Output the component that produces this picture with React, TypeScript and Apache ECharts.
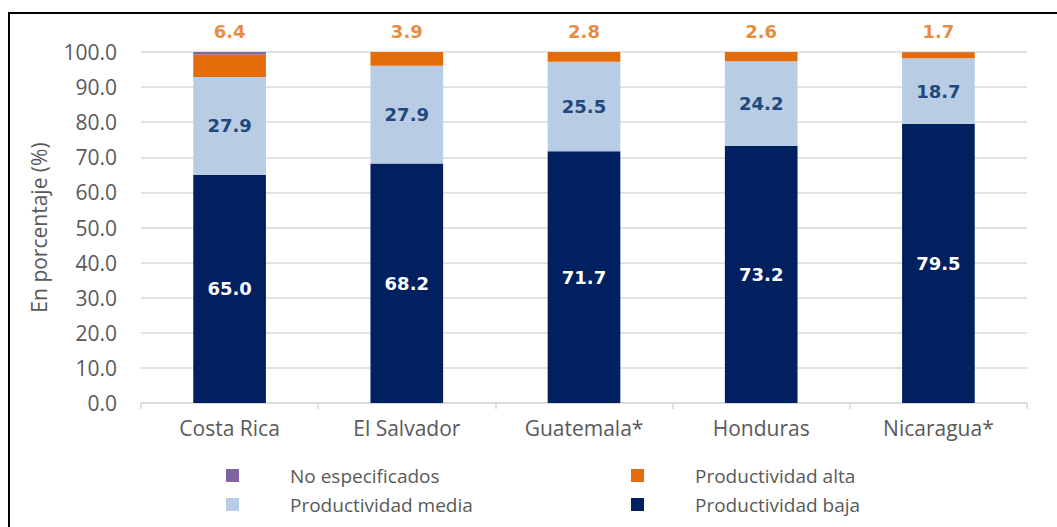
import React, { useEffect, useRef } from "react";
import * as echarts from "echarts";

const categories = ["Costa Rica", "El Salvador", "Guatemala*", "Honduras", "Nicaragua*"];
const baja = [65.0, 68.2, 71.7, 73.2, 79.5];
const media = [27.9, 27.9, 25.5, 24.2, 18.7];
const alta = [6.4, 3.9, 2.8, 2.6, 1.7];
const noEspecificados = [0.7, 0, 0, 0, 0.1];
const topPositions = [100, 100, 100, 100, 100];

const FONT = "Open Sans";
const LABEL_FONT = "DejaVu Sans";

export default function App() {
  const ref = useRef<HTMLDivElement>(null);
  useEffect(() => {
    document.body.style.margin = "0";
    const chart = echarts.init(ref.current!, null, { renderer: "svg" });
    const legendItem = (name: string, left: number, top: number) => ({
      data: [name],
      left,
      top,
      padding: 0,
      icon: "rect",
      itemWidth: 13,
      itemHeight: 13,
      selectedMode: false,
      textStyle: { fontFamily: FONT, fontSize: 19, color: "#595959", padding: [0, 0, 0, 46] },
    });
    chart.setOption({
      animation: false,
      backgroundColor: "#ffffff",
      graphic: [
        {
          type: "rect",
          shape: { x: 9, y: 13, width: 1200, height: 700 },
          style: { fill: "none", stroke: "#000000", lineWidth: 2 },
          silent: true,
        },
      ],
      grid: { left: 141, right: 30, top: 52, bottom: 124 },
      legend: [
        legendItem("No especificados", 226, 466),
        legendItem("Productividad alta", 631, 466),
        legendItem("Productividad media", 226, 495),
        legendItem("Productividad baja", 631, 495),
      ],
      xAxis: {
        type: "category",
        data: categories,
        axisLine: { lineStyle: { color: "#D9D9D9", width: 1.5 } },
        axisTick: { show: true, length: 6, lineStyle: { color: "#D9D9D9", width: 1.5 } },
        axisLabel: { fontFamily: FONT, fontSize: 21, color: "#595959", margin: 14 },
      },
      yAxis: {
        type: "value",
        min: 0,
        max: 100,
        interval: 10,
        name: "En porcentaje (%)",
        nameLocation: "middle",
        nameGap: 92,
        nameTextStyle: { fontFamily: FONT, fontSize: 21, color: "#595959" },
        axisLine: { show: false },
        axisTick: { show: false },
        splitLine: { lineStyle: { color: "#D9D9D9", width: 1.5 } },
        axisLabel: {
          fontFamily: FONT,
          fontSize: 21,
          color: "#595959",
          margin: 24,
          formatter: (v: number) => v.toFixed(1),
        },
      },
      series: [
        {
          name: "Productividad baja",
          type: "bar",
          stack: "total",
          barWidth: "41%",
          data: baja,
          itemStyle: { color: "#002060" },
          label: {
            show: true,
            position: "inside",
            color: "#ffffff",
            fontFamily: LABEL_FONT,
            fontWeight: "bold",
            fontSize: 18,
            formatter: (p: any) => p.value.toFixed(1),
          },
        },
        {
          name: "Productividad media",
          type: "bar",
          stack: "total",
          data: media,
          itemStyle: { color: "#B8CCE4" },
          label: {
            show: true,
            position: "inside",
            color: "#1F497D",
            fontFamily: LABEL_FONT,
            fontWeight: "bold",
            fontSize: 18,
            formatter: (p: any) => p.value.toFixed(1),
          },
        },
        {
          name: "Productividad alta",
          type: "bar",
          stack: "total",
          data: alta,
          itemStyle: { color: "#E46C0A" },
        },
        {
          name: "No especificados",
          type: "bar",
          stack: "total",
          data: noEspecificados,
          itemStyle: { color: "#8064A2" },
        },
        {
          name: "altaLabel",
          type: "scatter",
          data: topPositions,
          symbolSize: 0,
          silent: true,
          label: {
            show: true,
            position: "top",
            distance: 12,
            color: "#E46C0A",
            fontFamily: LABEL_FONT,
            fontWeight: "bold",
            fontSize: 18,
            formatter: (p: any) => alta[p.dataIndex].toFixed(1),
          },
        },
      ],
    });
    return () => chart.dispose();
  }, []);
  return <div ref={ref} style={{ width: 1057, height: 527 }} />;
}
